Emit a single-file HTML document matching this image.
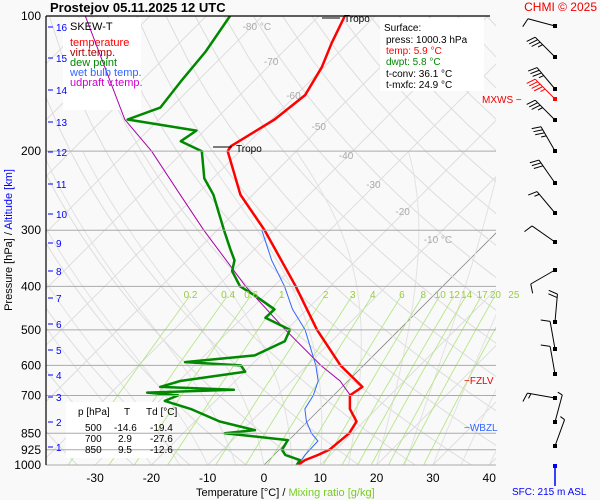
<!DOCTYPE html>
<html><head><meta charset="utf-8">
<style>
html,body{margin:0;padding:0;background:#f9f9f9;}
svg{display:block;font-family:"Liberation Sans",sans-serif;}
</style></head>
<body>
<svg id="c" width="600" height="500" viewBox="0 0 600 500">
<defs><clipPath id="pc"><rect x="46" y="16" width="450" height="449"/></clipPath></defs>
<rect x="0" y="0" width="600" height="500" fill="#f9f9f9"/>
<g id="bg" clip-path="url(#pc)"></g>
<g id="boxes">
<rect x="63" y="18" width="78" height="92" fill="#fff"/>
<rect x="380" y="18" width="104" height="73" fill="#fff"/>
<rect x="66" y="402" width="92" height="56" fill="#fff"/>
</g>
<g id="series" clip-path="url(#pc)"></g>
<g id="axes"></g>
<g id="barbs"></g>
<text x="50" y="12" font-size="13" font-weight="bold">Prostejov    05.11.2025 12 UTC</text>
<text x="597" y="11" font-size="12" fill="#e00" text-anchor="end">CHMI © 2025</text>
<g font-size="11">
<text x="70" y="30" fill="#000">SKEW-T</text>
<text x="70" y="46" fill="#f00">temperature</text>
<text x="70" y="56" fill="#a00">virt.temp.</text>
<text x="70" y="66" fill="#080">dew point</text>
<text x="70" y="76" fill="#36f">wet bulb temp.</text>
<text x="70" y="86" fill="#c0c">udpraft v.temp.</text>
</g>
<g font-size="10">
<text x="384" y="31">Surface:</text>
<text x="386" y="43">press: 1000.3 hPa</text>
<text x="386" y="54" fill="#f00">temp: 5.9 °C</text>
<text x="386" y="65" fill="#080">dwpt: 5.8 °C</text>
<text x="386" y="77">t-conv: 36.1 °C</text>
<text x="386" y="88">t-mxfc: 24.9 °C</text>
</g>
<g font-size="10">
<text x="78" y="415">p [hPa]</text><text x="124" y="415">T</text><text x="146" y="415">Td [°C]</text>
<text x="85" y="431">500</text><text x="114" y="431">-14.6</text><text x="150" y="431">-19.4</text>
<text x="85" y="442">700</text><text x="118" y="442">2.9</text><text x="150" y="442">-27.6</text>
<text x="85" y="453">850</text><text x="118" y="453">9.5</text><text x="150" y="453">-12.6</text>
</g>
<text x="464" y="384" font-size="10" fill="#e00">−FZLV</text>
<text x="464" y="431" font-size="10" fill="#36f">−WBZL</text>
<text x="482" y="103" font-size="10" fill="#e00">MXWS −</text>
<g><line x1="322" y1="18" x2="340" y2="18" stroke="#000"/><text x="344" y="22" font-size="10">Tropo</text></g>
<g><line x1="213" y1="147" x2="232" y2="147" stroke="#000"/><text x="236" y="152" font-size="10">Tropo</text></g>
<text x="512" y="495" font-size="10" fill="#00f">SFC: 215 m ASL</text>
<text x="196" y="496" font-size="11">Temperature [°C]  /  <tspan fill="#7c2">Mixing ratio [g/kg]</tspan></text>
<text transform="translate(12,240) rotate(-90)" font-size="11" text-anchor="middle">Pressure [hPa]  /  <tspan fill="#00f">Altitude [km]</tspan></text>
</svg>
<script>
// ---- data ----
const tempP = [1000,975,950,925,850,800,750,700,670,600,500,400,300,250,200,195,170,150,130,115,100];
const tempT = [6.0,6.4,7.8,8.9,9.5,8.7,5.3,2.9,3.6,-4.1,-14.6,-26.1,-41.6,-52.2,-62.2,-62.5,-59.5,-58.4,-60.4,-62.9,-65.4];
const dewP = [1000,975,950,925,880,857,850,836,800,750,720,700,690,680,670,650,620,600,590,570,530,500,470,450,420,400,370,350,330,300,280,250,230,200,190,180,170,160,140,120,100];
const dewT = [5.8,5.5,2.0,0.5,-0.2,-9.6,-12.6,-7.8,-15.6,-23,-29,-27.6,-33.6,-18.7,-32.3,-29.8,-19.9,-21.8,-32.3,-21.1,-18.3,-19.4,-25.9,-25.8,-31.6,-36,-40.1,-41.6,-44.4,-48.8,-51.9,-57,-61.5,-66.8,-72.3,-71.4,-85.6,-81.9,-82.9,-83.8,-85.8];
const wbP = [1000,950,884,850,800,750,700,650,600,500,450,400,350,300];
const wbT = [6.0,5.5,5.3,2.8,-0.2,-2.7,-3.6,-5.3,-8.5,-16.7,-22.6,-28.1,-35,-42.1];
const updP = [700,650,600,500,400,300,250,200,170,100];
const updT = [3.0,-1.4,-7.6,-20.2,-35,-52.4,-62.9,-75.7,-86.1,-111.5];
const pLevels = [100,200,300,400,500,600,700,850,925,1000];
const xTicks = [-30,-20,-10,0,10,20,30,40];
const kmTicks = [1,2,3,4,5,6,7,8,9,10,11,12,13,14,15,16];
const kmY = [447,422,397,375,350,324,298,271,243,214,184,152,122,90,58,27];
const mixRatios = [0.2,0.4,0.6,1,2,3,4,6,8,10,12,14,17,20,25];
const isoLabels = [-80,-70,-60,-50,-40,-30,-20,-10];
const windY = [26,57,89,99,120,151,183,213,242,270,322,349,374,398,422,446];
const windDir = [285,315,320,315,315,330,325,320,305,240,5,350,350,280,15,20];
const windSpd = [10,35,35,45,35,35,30,15,10,10,20,10,10,15,5,5];
const windRed = [0,0,0,1,0,0,0,0,0,0,0,0,0,0,0,0];

// ---- axes functions ----
const Y0=465, K=195, X0=264, SX=5.63;
function yP(p){return Y0 - K*Math.log(1000/p);}
function pY(y){return 1000*Math.exp(-(Y0-y)/K);}
function xT(T,p){return X0 + SX*T + (Y0 - yP(p));}
const NS='http://www.w3.org/2000/svg';
function mk(tag,attrs,parent){const e=document.createElementNS(NS,tag);for(const k in attrs)e.setAttribute(k,attrs[k]);parent.appendChild(e);return e;}
const bg=document.getElementById('bg'), ser=document.getElementById('series'), ax=document.getElementById('axes'), bb=document.getElementById('barbs');
function pathFrom(P,T){return P.map((p,i)=>(i?'L':'M')+xT(T[i],p).toFixed(1)+','+yP(p).toFixed(1)).join('');}

for(let T=-130;T<=40;T+=10){
  const l=mk('line',{x1:xT(T,1000),y1:yP(1000),x2:xT(T,100),y2:yP(100),stroke:T===0?'#888':'#ddd','stroke-width':T===0?0.8:1},bg);
  
  
}
for(let th=230;th<=480;th+=10){
  let d='';for(let p=1000;p>=100;p-=25){const T=th*Math.pow(p/1000,0.286)-273.15;d+=(d?'L':'M')+xT(T,p).toFixed(1)+','+yP(p).toFixed(1);}
  const e=mk('path',{d:d,fill:'none',stroke:'#ddd'},bg);
  
  
}
function es(T){return 6.112*Math.exp(17.67*T/(T+243.5));}
for(let T0=-20;T0<=40;T0+=5){
  let T=T0,d='';
  for(let p=1000;p>=200;p-=10){
    d+=(d?'L':'M')+xT(T,p).toFixed(1)+','+yP(p).toFixed(1);
    const Tk=T+273.15, rs=0.622*es(T)/(p-es(T));
    const g=(0.286*Tk+2.5e6*rs/1004)/(1+2.5e6*2.5e6*rs*0.622/(1004*287*Tk*Tk*0.622))*(1/p);
    T-=g*10;
  }
  const e=mk('path',{d:d,fill:'none',stroke:'#e2e2e2'},bg);
  
  
}
function tdW(w,p){const e=w*p/(622+w);const a=Math.log(e/6.112);return 243.5*a/(17.67-a);}
mixRatios.forEach(w=>{
  let d='';for(let p=1000;p>=418;p-=20){d+=(d?'L':'M')+xT(tdW(w,p),p).toFixed(1)+','+yP(p).toFixed(1);}
  const e=mk('path',{d:d,fill:'none',stroke:'#b7e68a','stroke-width':0.9},bg);
  
  
  const t=mk('text',{x:xT(tdW(w,418),418),y:298,'font-size':10,fill:'#9c4','text-anchor':'middle'},ax);
  t.textContent=String(w);
  
  
});
const isoLabY=[30,65,99,130,159,188,215,243];
isoLabels.forEach((T,i)=>{
  const p=pY(isoLabY[i]);
  const t=mk('text',{x:xT(T,p)-6,y:isoLabY[i],'font-size':10,fill:'#aaa'},ax);
  t.textContent=(T===-80||T===-10)?T+' °C':String(T);
  
  
});
pLevels.forEach(p=>{
  const y=yP(p);
  const l=mk('line',{x1:46,y1:y,x2:p===100?490:496,y2:y,stroke:p===100?'#000':'#aaa','stroke-width':p===100?1.2:1},ax);
  
  
  const t=mk('text',{x:41,y:y+4,'font-size':12,'text-anchor':'end'},ax);
  t.textContent=String(p);
  
  
});
const ya=mk('line',{x1:46,y1:16,x2:46,y2:465,stroke:'#000','stroke-width':1.2},ax);


xTicks.forEach(T=>{
  const t=mk('text',{x:xT(T,1000),y:482,'font-size':12,'text-anchor':'middle'},ax);
  t.textContent=String(T);
  
  
});
kmTicks.forEach((k,i)=>{
  const y=kmY[i];
  const l=mk('line',{x1:48,y1:y,x2:53,y2:y,stroke:'#00f'},ax);
  
  
  const t=mk('text',{x:56,y:y+4,'font-size':10,fill:'#00f'},ax);
  t.textContent=String(k);
  
  
});
const s1=mk('path',{d:pathFrom(updP,updT),fill:'none',stroke:'#a0a','stroke-width':1},ser);


const s2=mk('path',{d:pathFrom(wbP,wbT),fill:'none',stroke:'#36f','stroke-width':1},ser);


const s3=mk('path',{d:pathFrom(dewP,dewT),fill:'none',stroke:'#080','stroke-width':2.5,'stroke-linejoin':'round'},ser);


const s4=mk('path',{d:pathFrom(tempP,tempT),fill:'none',stroke:'#a00','stroke-width':1},ser);


const s5=mk('path',{d:pathFrom(tempP,tempT),fill:'none',stroke:'#f00','stroke-width':2.5,'stroke-linejoin':'round'},ser);


windY.forEach((y,i)=>{
  const sx=555, a=windDir[i]*Math.PI/180, L=28;
  const dx=Math.sin(a), dy=-Math.cos(a);
  const ex=sx+dx*L, ey=y+dy*L;
  const col=windRed[i]?'#f00':'#000';
  const g=mk('g',{stroke:col,'stroke-width':1,fill:'none'},bb);
  
  
  mk('line',{x1:sx,y1:y,x2:ex,y2:ey},g);
  mk('rect',{x:sx-2,y:y-2,width:4,height:4,fill:col,stroke:'none'},g);
  let s=windSpd[i], pos=0;
  const px=dy, py=-dx;
  while(s>=10){const bx=ex-dx*pos, by=ey-dy*pos;mk('line',{x1:bx,y1:by,x2:bx+px*9+dx*3,y2:by+py*9+dy*3},g);pos+=3.5;s-=10;}
  if(s>=5){const bx=ex-dx*pos, by=ey-dy*pos;mk('line',{x1:bx,y1:by,x2:bx+px*5+dx*1.5,y2:by+py*5+dy*1.5},g);}
});
const sfc=mk('line',{x1:555,y1:466,x2:555,y2:486,stroke:'#00f','stroke-width':1.5},bb);


mk('rect',{x:553,y:464,width:4,height:4,fill:'#00f'},bb);
</script>
</body></html>
